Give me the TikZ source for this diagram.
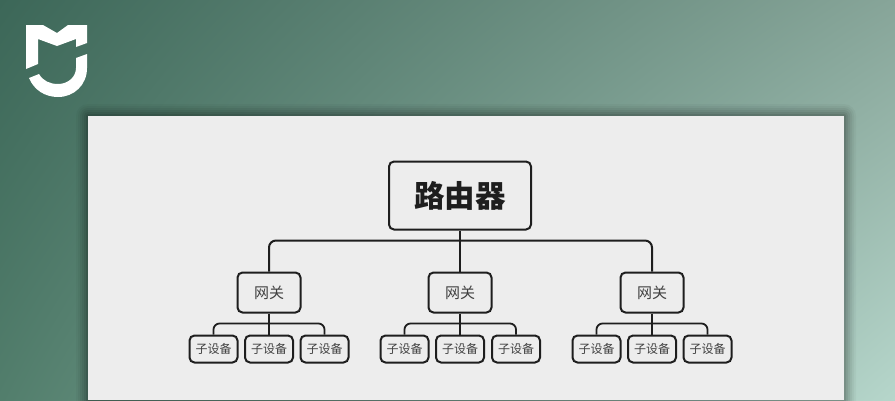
\documentclass[tikz,border=0pt]{standalone}
\usepackage{fontspec}
\usetikzlibrary{shadings}
\newfontfamily\cjk{Noto Sans CJK SC}
\definecolor{panel}{HTML}{EDEDED}
\definecolor{ink}{HTML}{1E1E1E}
\definecolor{bgul}{RGB}{60,103,88}
\definecolor{bgur}{RGB}{135,165,153}
\definecolor{bgll}{RGB}{82,126,108}
\definecolor{bglr}{RGB}{182,214,203}
\tikzset{
  box/.style={draw=ink,fill=panel,rounded corners=5pt,line width=2pt,inner sep=0pt,font=\cjk,text=ink},
  routerbox/.style={box,minimum width=142pt,minimum height=68pt,font=\cjk\bfseries\fontsize{30.5}{31}\selectfont},
  gatebox/.style={box,minimum width=63pt,minimum height=40pt,font=\cjk\fontsize{15}{15}\selectfont,text=ink!85},
  devbox/.style={box,minimum width=48pt,minimum height=27pt,font=\cjk\fontsize{12}{12}\selectfont,text=ink!85},
  conn/.style={draw=ink,line width=2pt,rounded corners=7pt},
  subconn/.style={draw=ink,line width=1.8pt,rounded corners=6pt}
}
\begin{document}
\begin{tikzpicture}[x=1pt,y=-1pt]
\useasboundingbox (0,0) rectangle (895,400);
\shade[upper left=bgul,upper right=bgur,lower left=bgll,lower right=bglr]
  (0,0) rectangle (895,400);
% logo
\fill[white] (26,25) -- (43,25) -- (57,33) -- (68,25) -- (87,25) -- (87,43) -- (76,47) -- (76,39) -- (57,46) -- (38,39) -- (38,64) -- (26,69) -- cycle;
\fill[white] (87,54) -- (87,68) .. controls (87,85) and (74,97) .. (58,97) .. controls (45,97) and (34,90) .. (29,78) -- (39,74) .. controls (43,81) and (50,84) .. (58,84) .. controls (68,84) and (76,77) .. (76,68) -- (76,58) -- cycle;
% panel shadow
\foreach \d/\o in {12/0.03,10/0.04,8/0.05,6/0.06,4/0.07,2/0.09}
  \fill[black,opacity=\o,rounded corners=\d pt] (88-\d,116-\d) rectangle (844+\d,420);
\fill[panel] (88,116) rectangle (844,400);
% nodes
\node[routerbox] (r) at (460,195.5) {\raisebox{1pt}{路由器}};
\node[gatebox] (g1) at (269,292.5) {网关};
\node[gatebox] (g2) at (460,292.5) {网关};
\node[gatebox] (g3) at (652,292.5) {网关};
\node[devbox] (d11) at (213.5,349) {子设备};
\node[devbox] (d12) at (269,349) {子设备};
\node[devbox] (d13) at (324.5,349) {子设备};
\node[devbox] (d21) at (404.5,349) {子设备};
\node[devbox] (d22) at (460,349) {子设备};
\node[devbox] (d23) at (516,349) {子设备};
\node[devbox] (d31) at (596.5,349) {子设备};
\node[devbox] (d32) at (652,349) {子设备};
\node[devbox] (d33) at (707.5,349) {子设备};
\coordinate (bus) at (460,240.5);
\coordinate (b1) at (269,323.5);
\coordinate (b2) at (460,323.5);
\coordinate (b3) at (652,323.5);
% connectors
\draw[conn] (g1.north) |- (bus) -| (g3.north);
\draw[conn] (r.south) -- (g2.north);
\draw[subconn] (d11.north) |- (b1) -| (d13.north);
\draw[subconn] (g1.south) -- (d12.north);
\draw[subconn] (d21.north) |- (b2) -| (d23.north);
\draw[subconn] (g2.south) -- (d22.north);
\draw[subconn] (d31.north) |- (b3) -| (d33.north);
\draw[subconn] (g3.south) -- (d32.north);
\end{tikzpicture}
\end{document}
